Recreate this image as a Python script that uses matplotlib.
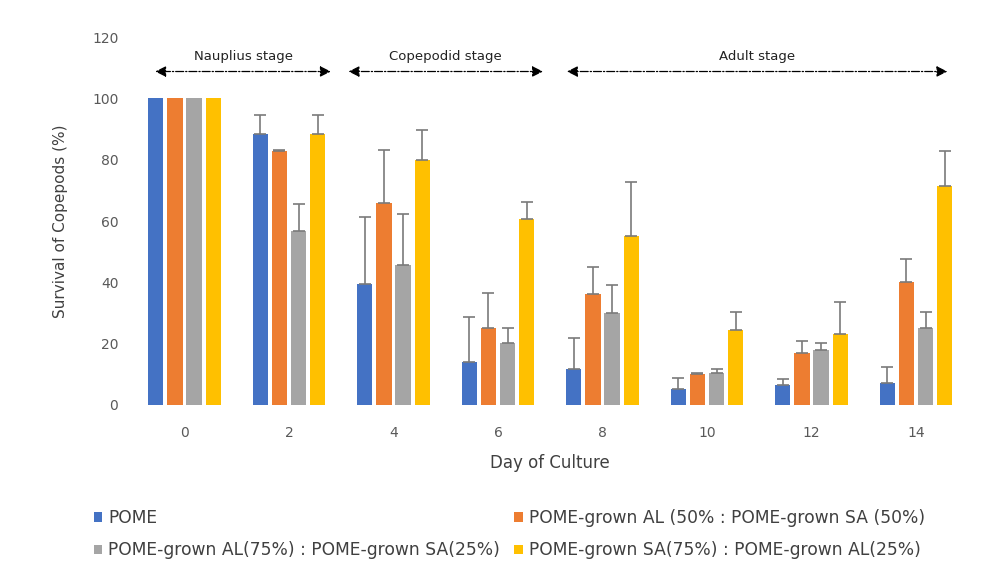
import numpy as np
import matplotlib.pyplot as plt

days = ['0', '2', '4', '6', '8', '10', '12', '14']
labels = ['POME',
          'POME-grown AL (50% : POME-grown SA (50%)',
          'POME-grown AL(75%) : POME-grown SA(25%)',
          'POME-grown SA(75%) : POME-grown AL(25%)']

# survival (%) per treatment and its standard deviation
pome      = [100, 88.5, 39.6, 14.1, 11.6, 5.1, 6.5, 7.3]
pome_sd   = [0, 6.2, 21.7, 14.7, 10.1, 3.6, 1.9, 5.0]
al50      = [100, 82.8, 65.9, 25.2, 36.2, 10.1, 16.8, 40.2]
al50_sd   = [0, 0.4, 17.4, 11.2, 8.8, 0.3, 4.1, 7.3]
al75      = [100, 56.7, 45.6, 20.3, 29.9, 10.5, 17.9, 25.0]
al75_sd   = [0, 9.0, 16.8, 4.7, 9.2, 1.1, 2.4, 5.4]
sa75      = [100, 88.5, 79.8, 60.8, 55.0, 24.4, 23.3, 71.3]
sa75_sd   = [0, 6.2, 9.8, 5.4, 17.7, 6.0, 10.3, 11.5]

colors = ['#4472C4', '#ED7D31', '#A5A5A5', '#FFC000']
series = [(pome, pome_sd), (al50, al50_sd), (al75, al75_sd), (sa75, sa75_sd)]

fig = plt.figure(figsize=(9.87, 5.72), dpi=100)
ax = fig.add_axes([0.134, 0.292, 0.847, 0.643])

x = np.arange(len(days))
step = 0.183
width = 0.145
bars = []
for i, ((vals, sd), c) in enumerate(zip(series, colors)):
    pos = x + (i - 1.5) * step
    b = ax.bar(pos, vals, width, color=c, label=labels[i], zorder=2)
    vals = np.array(vals)
    sd = np.array(sd)
    has_sd = sd > 0
    ax.errorbar(pos[has_sd], vals[has_sd], yerr=[np.zeros(has_sd.sum()), sd[has_sd]],
                fmt='none', ecolor='#7a7a7a', elinewidth=1.2, capsize=4,
                capthick=1.2, zorder=3)
    bars.append(b)

ax.set_xlim(-0.5, 7.5)
ax.set_ylim(0, 120)
ax.set_yticks(range(0, 121, 20))
ax.set_xticks(x)
ax.set_xticklabels(days)
for s in ax.spines.values():
    s.set_visible(False)
ax.tick_params(length=0, labelsize=10, colors='#595959')
ax.tick_params(axis='x', pad=15)
ax.tick_params(axis='y', pad=10)

ax.set_xlabel('Day of Culture', fontsize=12, color='#404040', labelpad=10)
ax.set_ylabel('Survival of Copepods (%)', fontsize=11, color='#404040', labelpad=17)

# life stage spans
stages = [('Nauplius stage', -0.28, 1.40), ('Copepodid stage', 1.57, 3.43), ('Adult stage', 3.66, 7.30)]
for name, x0, x1 in stages:
    ax.annotate('', xy=(x0, 108.8), xytext=(x1, 108.8),
                arrowprops=dict(arrowstyle='<|-|>', linestyle='-.', color='black',
                                lw=0.9, mutation_scale=16, shrinkA=0, shrinkB=0),
                annotation_clip=False)
    ax.text((x0 + x1) / 2, 111.5, name, ha='center', va='bottom', fontsize=9.5, color='#222222')

# legend laid out row by row
order = [0, 2, 1, 3]
fig.legend([bars[i] for i in order], [labels[i] for i in order], ncol=2,
           loc='lower center', bbox_to_anchor=(0.516, -0.005), frameon=False,
           fontsize=12.3, handlelength=0.5, handleheight=0.5, handletextpad=0.35,
           columnspacing=0.8, labelcolor='#404040', labelspacing=0.85)

fig.savefig('out.png', dpi=100)
